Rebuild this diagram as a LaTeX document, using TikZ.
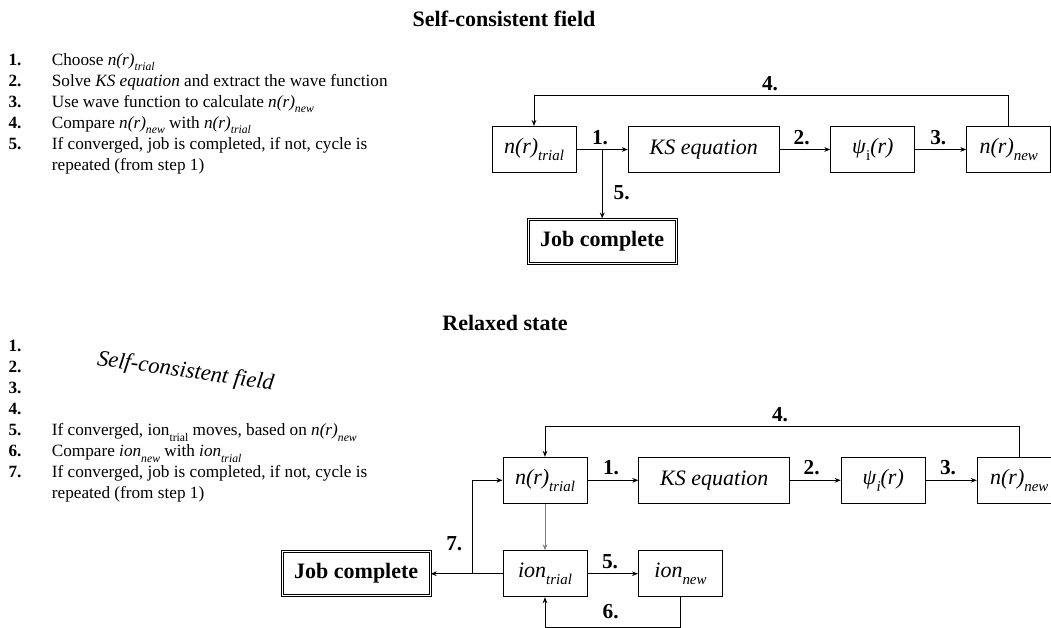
\documentclass[tikz,border=0pt]{standalone}
\usepackage{fontspec}
\setmainfont{Liberation Serif}
\usepackage{graphicx}
\usetikzlibrary{arrows.meta}

\newcommand\lowsub[1]{\raisebox{-.7ex}{\scalebox{.68}{#1}}}
\newcommand\nr[1]{\textit{n(r)}\lowsub{\itshape #1}}

\tikzset{
  box/.style={draw,line width=0.75pt,minimum width=63pt,minimum height=34.5pt,inner sep=0pt,font=\fontsize{16.5}{19}\selectfont},
  wide/.style={minimum width=113.25pt},
  done/.style={box,minimum width=111pt,minimum height=33pt,double,double distance=0.75pt,font=\fontsize{16.5}{19}\selectfont\bfseries},
  num/.style={font=\fontsize{16}{19}\selectfont\bfseries,inner sep=0pt},
  flow/.style={-{Stealth[length=4.5pt,width=3.5pt]},line width=0.75pt},
  steps/.style={anchor=north west,inner sep=0pt,font=\fontsize{12.9}{15.75}\selectfont},
}

\begin{document}
\begin{tikzpicture}[x=0.75pt,y=-0.75pt]
\useasboundingbox (0,0) rectangle (1051,628);

\node(T1)[font=\fontsize{16.5}{19}\selectfont\bfseries] at (504,19) {Self-consistent field};
\node(T2)[font=\fontsize{16.5}{19}\selectfont\bfseries] at (505,323) {Relaxed state};

% step lists
\node(L1)[steps] at (8.3,50.3) {%
\begin{tabular}{@{}p{32.5pt}@{}l@{}}
\textbf{1.} & Choose \nr{trial}\\
\textbf{2.} & Solve \textit{KS equation} and extract the wave function\\
\textbf{3.} & Use wave function to calculate \nr{new}\\
\textbf{4.} & Compare \nr{new} with \nr{trial}\\
\textbf{5.} & If converged, job is completed, if not, cycle is\\
 & repeated (from step 1)
\end{tabular}};

\node(L2)[steps] at (8.3,337) {%
\begin{tabular}{@{}p{32.5pt}@{}l@{}}
\textbf{1.} & \\
\textbf{2.} & \\
\textbf{3.} & \\
\textbf{4.} & \\
\textbf{5.} & If converged, ion\lowsub{trial} moves, based on \nr{new}\\
\textbf{6.} & Compare \textit{ion}\lowsub{\itshape new} with \textit{ion}\lowsub{\itshape trial}\\
\textbf{7.} & If converged, job is completed, if not, cycle is\\
 & repeated (from step 1)
\end{tabular}};
\node(scf)[rotate=-8,font=\fontsize{17}{19}\selectfont\itshape] at (185.5,372) {Self-consistent field};

% self-consistent cycle
\node(nt)[box] at (534,149.5) {\nr{trial}};
\node(ks)[box,wide] at (703.8,149.5) {\textit{KS equation}};
\node(psi)[box] at (872.8,149.5) {\textit{ψ}\lowsub{i}\textit{(r)}};
\node(nn)[box] at (1008.8,149.5) {\nr{new}};
\node(job)[done] at (602.2,241) {Job complete};

\draw[flow] (nt) -- (ks);
\draw[flow] (ks) -- (psi);
\draw[flow] (psi) -- (nn);
\draw[flow] (nn.north) -- ++(0,-30.5) -| (nt.north);
\draw[flow] (job.north |- nt.east) -- (job.north);

\node(s1)[num] at (600,137.3) {1.};
\node(s2)[num] at (801.7,137.3) {2.};
\node(s3)[num] at (938.3,137.3) {3.};
\node(s4)[num] at (770,84) {4.};
\node(s5)[num] at (621.7,192.3) {5.};

% relaxation cycle
\node(nt2)[box] at (545,480.3) {\nr{trial}};
\node(ks2)[box,wide] at (714.3,480.3) {\textit{KS equation}};
\node(psi2)[box] at (883.2,480.3) {\textit{ψ}\lowsub{\itshape i}\textit{(r)}};
\node(nn2)[box] at (1019.3,480.3) {\nr{new}};
\node(it)[box] at (545,573.7) {\textit{ion}\lowsub{\itshape trial}};
\node(in)[box] at (680.5,573.7) {\textit{ion}\lowsub{\itshape new}};
\node(job2)[done] at (356.2,573.7) {Job complete};
\coordinate(j7) at (472.7,573.7);

\draw[flow] (nt2) -- (ks2);
\draw[flow] (ks2) -- (psi2);
\draw[flow] (psi2) -- (nn2);
\draw[flow] (nn2.north) -- ++(0,-30) -| (nt2.north);
\draw[flow,gray] (nt2) -- (it);
\draw[flow] (it) -- (in);
\draw[flow] (in.south) -- ++(0,30) -| (it.south);
\draw[flow] (it) -- (job2);
\draw[flow] (j7) |- (nt2.west);

\node(r1)[num] at (611,468) {1.};
\node(r2)[num] at (811.7,468) {2.};
\node(r3)[num] at (948,468) {3.};
\node(r4)[num] at (780,415) {4.};
\node(r5)[num] at (610,561.7) {5.};
\node(r6)[num] at (610.7,612) {6.};
\node(r7)[num] at (454.3,544) {7.};

\end{tikzpicture}
\end{document}
